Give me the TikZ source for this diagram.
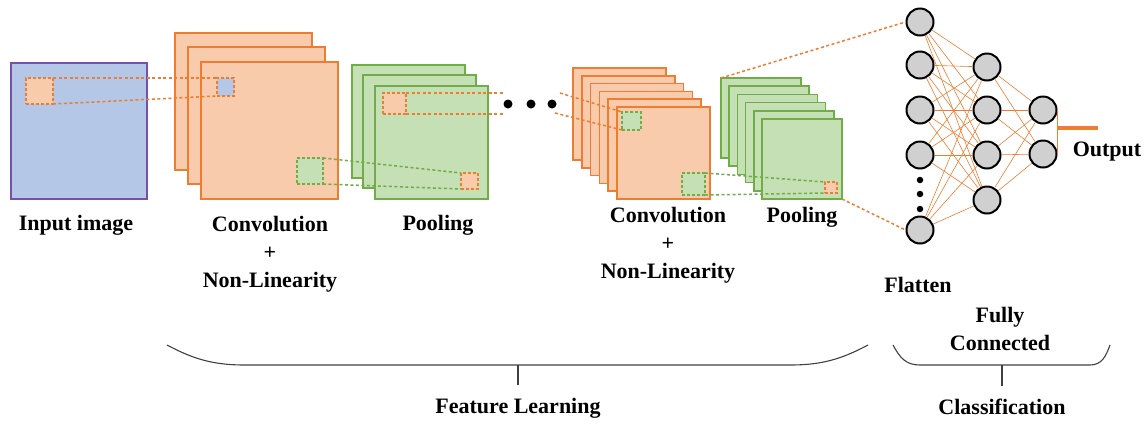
\documentclass[tikz,border=0pt]{standalone}
\usepackage{fontspec}
\setmainfont{Liberation Serif}
\definecolor{ostroke}{HTML}{ED7D31}
\definecolor{ofill}{HTML}{F8CBAD}
\definecolor{gstroke}{HTML}{70AD47}
\definecolor{gfill}{HTML}{C5E0B4}
\definecolor{bfill}{HTML}{B4C7E7}
\definecolor{pstroke}{HTML}{7A4FA8}
\definecolor{ngray}{HTML}{D0D0D0}
\definecolor{brgray}{HTML}{404040}
\tikzset{
  fm/.style={draw, line width=1.6pt, anchor=north west, inner sep=0pt, outer sep=0pt},
  ofm/.style={fm, draw=ostroke, fill=ofill},
  gfm/.style={fm, draw=gstroke, fill=gfill},
  inbox/.style={fm, draw=pstroke, fill=bfill},
  dsq/.style={anchor=north west, inner sep=0pt, outer sep=0pt, line width=1.5pt, dash pattern=on 3pt off 2pt},
  dl/.style={line width=1.5pt, dash pattern=on 3pt off 2.5pt},
  neuron/.style={circle, draw=black, line width=2pt, fill=ngray, minimum size=27pt, inner sep=0pt},
  lbl/.style={font=\fontsize{22}{28}\selectfont\bfseries, inner sep=0pt, align=center},
  conn/.style={draw=ostroke, line width=0.6pt},
  bigdot/.style={circle, fill=black, minimum size=9pt, inner sep=0pt},
  smalldot/.style={circle, fill=black, minimum size=6.5pt, inner sep=0pt},
  brace/.style={draw=brgray, line width=1.1pt},
}
\begin{document}
\begin{tikzpicture}[x=1pt,y=-1pt]
\useasboundingbox (0,0) rectangle (1146,424);
% input image
\node[inbox, minimum width=136pt, minimum height=136pt] (in) at (11,63) {};
\node[dsq, draw=ostroke, fill=ofill, minimum width=27pt, minimum height=26pt] (in1) at (26,78) {};
% conv 1
\node[ofm, minimum width=137pt, minimum height=137pt] (c1a) at (175,33) {};
\node[ofm, minimum width=137pt, minimum height=137pt] (c1b) at (188,47) {};
\node[ofm, minimum width=137pt, minimum height=137pt] (c1c) at (201,62) {};
\node[dsq, draw=ostroke, fill=bfill, minimum width=17pt, minimum height=18pt] (sb1) at (217,78) {};
\node[dsq, draw=gstroke, fill=gfill, minimum width=26pt, minimum height=26pt] (sg1) at (297,158) {};
% pool 1
\node[gfm, minimum width=113pt, minimum height=113pt] (p1a) at (352,65) {};
\node[gfm, minimum width=113pt, minimum height=113pt] (p1b) at (363,75) {};
\node[gfm, minimum width=113pt, minimum height=113pt] (p1c) at (375,86) {};
\node[dsq, draw=ostroke, fill=ofill, minimum width=23pt, minimum height=21pt] (so1) at (383,93) {};
\node[dsq, draw=ostroke, fill=ofill, minimum width=17pt, minimum height=16pt] (so2) at (461,173) {};
% dots
\node[bigdot] (d1) at (508,104) {};
\node[bigdot] (d2) at (531,104) {};
\node[bigdot] (d3) at (552,104) {};
% conv 2
\foreach \i in {0,...,5}{
  \node[ofm, minimum width=93pt, minimum height=92pt] (c2\i) at (573+8.8*\i,68+7.8*\i) {};
}
\node[dsq, draw=gstroke, fill=gfill, minimum width=19pt, minimum height=18pt] (sg2) at (622,112) {};
\node[dsq, draw=gstroke, fill=gfill, minimum width=23pt, minimum height=22pt] (sg3) at (682,173) {};
% pool 2
\foreach \i in {0,...,5}{
  \node[gfm, minimum width=80pt, minimum height=80pt] (p2\i) at (721+8.2*\i,78+8.2*\i) {};
}
\node[dsq, draw=ostroke, fill=ofill, minimum width=12pt, minimum height=11pt] (so3) at (825,182) {};
% dashed connectors
\draw[dl, ostroke] (in1.north east) -- (sb1.north west);
\draw[dl, ostroke] (in1.south east) -- (sb1.south west);
\draw[dl, gstroke] (sg1.north east) -- (so2.north west);
\draw[dl, gstroke] (sg1.south east) -- (so2.south west);
\coordinate (e1) at (503,93);
\coordinate (e2) at (503,114);
\draw[dl, ostroke] (so1.north east) -- (e1);
\draw[dl, ostroke] (so1.south east) -- (e2);
\coordinate (s1) at (560,93);
\coordinate (s2) at (555,113);
\draw[dl, ostroke] (s1) -- (sg2.north west);
\draw[dl, ostroke] (s2) -- (sg2.south west);
\draw[dl, gstroke] (sg3.north east) -- (so3.north west);
\draw[dl, gstroke] (sg3.south east) -- (so3.south west);
% neurons
\node[neuron] (a1) at (920,22) {};
\node[neuron] (a2) at (920,65) {};
\node[neuron] (a3) at (920,110) {};
\node[neuron] (a4) at (920,155) {};
\node[neuron] (a5) at (920,230) {};
\node[smalldot] (v1) at (920,180) {};
\node[smalldot] (v2) at (920,194) {};
\node[smalldot] (v3) at (920,209) {};
\node[neuron] (b1) at (987,67) {};
\node[neuron] (b2) at (987,110) {};
\node[neuron] (b3) at (987,155) {};
\node[neuron] (b4) at (987,200) {};
\node[neuron] (o1) at (1043,110) {};
\node[neuron] (o2) at (1043,154) {};
\foreach \a in {a1,a2,a3,a4,a5}{
  \foreach \b in {b1,b2,b3,b4}{
    \draw[conn] (\a) -- (\b);
  }
}
\foreach \b in {b1,b2,b3,b4}{
  \foreach \o in {o1,o2}{
    \draw[conn] (\b) -- (\o);
  }
}
\draw[dl, ostroke] (p20.north west) -- (a1.west);
\draw[dl, ostroke] (p25.south east) -- (a5.west);
% output
\draw[ostroke, line width=0.8pt] (o1.east) -- (o2.east);
\coordinate (ob) at (1057,128);
\coordinate (oe) at (1098,128);
\draw[ostroke, line width=4.5pt] (ob) -- (oe);
% labels
\node[lbl] (l_in) at (76,225) {Input image};
\node[lbl] (l_c1) at (270,254) {Convolution\\+\\Non-Linearity};
\node[lbl] (l_p1) at (438,225) {Pooling};
\node[lbl] (l_c2) at (668,245) {Convolution\\+\\Non-Linearity};
\node[lbl] (l_p2) at (802,217) {Pooling};
\node[lbl] (l_fl) at (918,285) {Flatten};
\node[lbl] (l_fc) at (1000,329) {Fully\\Connected};
\node[lbl] (l_out) at (1107,152) {Output};
\node[lbl] (l_fe) at (518,408) {Feature Learning};
\node[lbl] (l_cl) at (1002,407) {Classification};
% braces
\draw[brace] (167,345) .. controls (195,360) and (215,365) .. (245,365) -- (790,365) .. controls (820,365) and (840,360) .. (868,345);
\draw[brace] (518,365) -- (518,385);
\draw[brace] (893,345) .. controls (900,358) and (906,365) .. (920,365) -- (1090,365) .. controls (1102,365) and (1106,356) .. (1110,345);
\draw[brace] (1002,365) -- (1002,386);
\end{tikzpicture}
\end{document}
